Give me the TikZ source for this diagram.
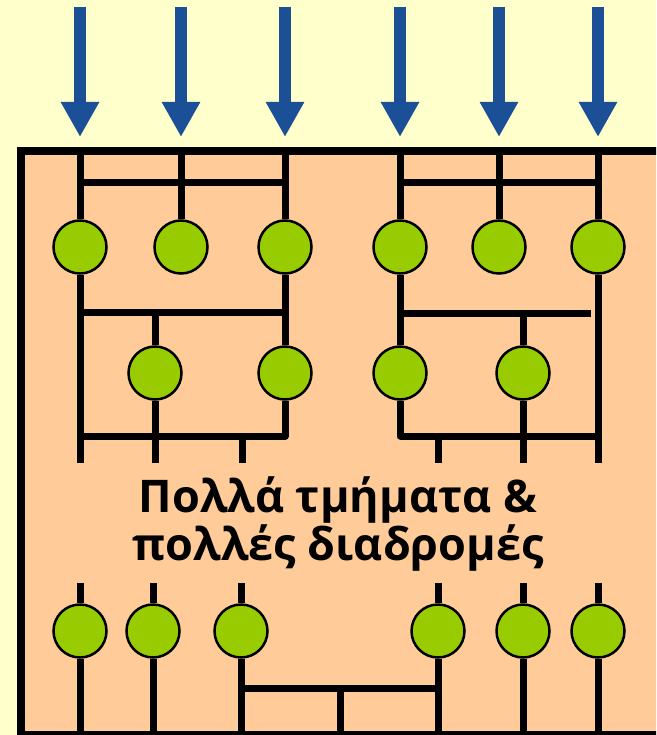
\documentclass[tikz,border=0pt]{standalone}
\usepackage{fontspec}
\newfontfamily\labelfont{Open Sans}
\usetikzlibrary{arrows.meta}

\definecolor{paper}{HTML}{FFFFCC}
\definecolor{panel}{HTML}{FFCC99}
\definecolor{flow}{HTML}{1B5096}
\definecolor{cellgreen}{HTML}{99CC00}

\tikzset{
	wire/.style={line width=7pt,line join=round},
	cell/.style={circle,draw,fill=cellgreen,line width=2.5pt,minimum size=53pt,inner sep=0pt},
	feed/.style={line width=12pt,flow,-{Triangle[width=36pt,length=35pt]}},
	caption/.style={anchor=base,font=\labelfont\bfseries\fontsize{45}{48}\selectfont}
}

\begin{document}
\begin{tikzpicture}[x=1pt,y=-1pt]
		\fill[paper] (0,0) rectangle (656,735);
		\clip (0,0) rectangle (656,735);
		\draw[line width=8pt,fill=panel] (21,151) rectangle (720,735);

		% incoming flows
		\foreach \x in {80,181,285,400,499,598}
		\draw[feed] (\x,7) -- (\x,137);

		% cells of the upper part
		\node[cell] (u1) at (80,247) {};
		\node[cell] (u2) at (181,247) {};
		\node[cell] (u3) at (285,247) {};
		\node[cell] (u4) at (400,247) {};
		\node[cell] (u5) at (499,247) {};
		\node[cell] (u6) at (598,247) {};
		\node[cell] (m1) at (155,373) {};
		\node[cell] (m2) at (285,373) {};
		\node[cell] (m3) at (400,373) {};
		\node[cell] (m4) at (523,373) {};

		% feeds into the upper row
		\foreach \n/\x in {1/80,2/181,3/285,4/400,5/499,6/598} {
			\coordinate (in\n) at (\x,151);
			\draw[wire] (in\n) -- (u\n.north);
		}
		\coordinate (bl1) at (80,183);
		\coordinate (bl2) at (285,183);
		\coordinate (br1) at (400,183);
		\coordinate (br2) at (598,183);
		\draw[wire] (bl1) -- (bl2);
		\draw[wire] (br1) -- (br2);

		% left block
		\coordinate (o1) at (80,463);
		\coordinate (o2) at (155,463);
		\coordinate (o3) at (242,463);
		\coordinate (ml1) at (80,312);
		\coordinate (ml2) at (285,312);
		\coordinate (c1) at (155,312);
		\coordinate (j1) at (80,436);
		\coordinate (s1) at (242,436);
		\draw[wire] (u1.south) -- (o1);
		\draw[wire] (ml1) -- (ml2);
		\draw[wire] (c1) -- (m1.north);
		\draw[wire] (m1.south) -- (o2);
		\draw[wire] (u3.south) -- (m2.north);
		\draw[wire] (m2.south) |- (j1);
		\draw[wire] (s1) -- (o3);

		% right block
		\coordinate (o4) at (438,463);
		\coordinate (o5) at (523,463);
		\coordinate (o6) at (598,463);
		\coordinate (mr1) at (400,313);
		\coordinate (mr2) at (591,313);
		\coordinate (c2) at (523,313);
		\coordinate (j2) at (598,436);
		\coordinate (s2) at (438,436);
		\draw[wire] (u4.south) -- (m3.north);
		\draw[wire] (m3.south) |- (j2);
		\draw[wire] (u6.south) -- (o6);
		\draw[wire] (mr1) -- (mr2);
		\draw[wire] (c2) -- (m4.north);
		\draw[wire] (m4.south) -- (o5);
		\draw[wire] (s2) -- (o4);

		\node[caption] (t1) at (338,512) {Πολλά τμήματα \&};
		\node[caption] (t2) at (338,560) {πολλές διαδρομές};

		% lower row
		\foreach \i/\x in {1/80,2/153,3/241,4/438,5/523,6/598} {
			\node[cell] (d\i) at (\x,631) {};
			\coordinate (p\i) at (\x,583);
			\coordinate (q\i) at (\x,735);
			\draw[wire] (p\i) -- (d\i.north);
			\draw[wire] (d\i.south) -- (q\i);
		}
		\coordinate (h1) at (241,688);
		\coordinate (h2) at (438,688);
		\coordinate (h3) at (340,688);
		\coordinate (q7) at (340,735);
		\draw[wire] (h1) -- (h2);
		\draw[wire] (h3) -- (q7);
\end{tikzpicture}
\end{document}
